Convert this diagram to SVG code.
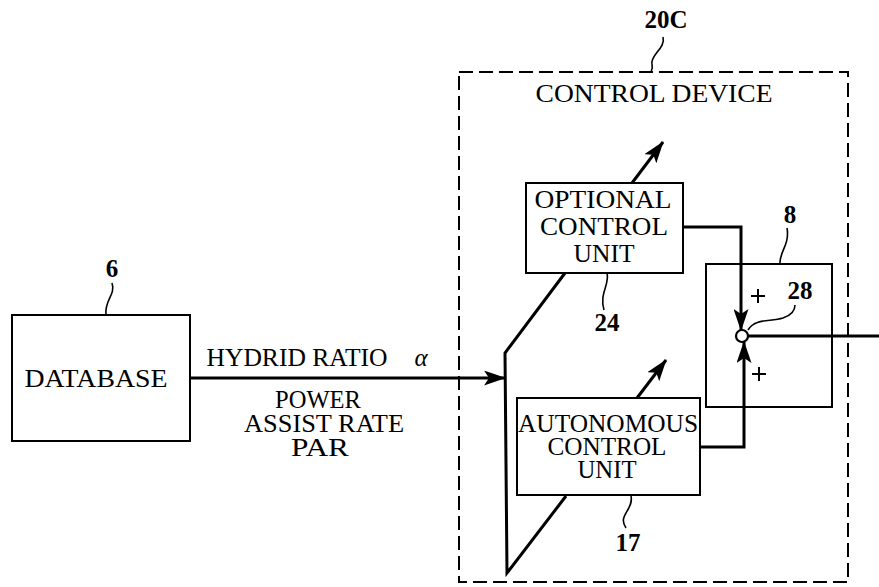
<svg xmlns="http://www.w3.org/2000/svg" width="879" height="587" viewBox="0 0 879 587">
<defs>
<style>
.box{fill:#fff;stroke:#000;stroke-width:2}
.ln{fill:none;stroke:#000;stroke-width:3}
.ld{fill:none;stroke:#000;stroke-width:1.6}
.t{font-family:"Liberation Serif","Times New Roman",serif;font-size:25px;fill:#000;text-anchor:middle}
.n{font-family:"Liberation Serif","Times New Roman",serif;font-size:25px;font-weight:bold;fill:#000;text-anchor:middle}
</style>
<marker id="ah" viewBox="0 0 22 15" refX="21" refY="7.5" markerWidth="22" markerHeight="15" markerUnits="userSpaceOnUse" orient="auto">
<path d="M0,0 L22,7.5 L0,15 L5,7.5 Z" fill="#000"/>
</marker>
</defs>
<rect width="879" height="587" fill="#fff"/>

<g id="control-device">
<rect x="459" y="72" width="389" height="510" fill="none" stroke="#000" stroke-width="2" stroke-dasharray="14,6"/>
<text class="t" x="654" y="102" font-size="26" textLength="237" lengthAdjust="spacingAndGlyphs">CONTROL DEVICE</text>
<text class="n" x="666" y="28">20C</text>
<path class="ld" d="M663,37 C666,48 650,55 652,64 C653,68 652,70 651,72"/>
</g>

<g id="database">
<rect class="box" x="12" y="315" width="178" height="126"/>
<text class="t" x="96" y="387" font-size="27" textLength="143" lengthAdjust="spacingAndGlyphs">DATABASE</text>
<text class="n" x="112" y="277">6</text>
<path class="ld" d="M112,283 C116,295 104,300 106,315"/>
</g>

<g id="optional-control-unit">
<rect class="box" x="526" y="183" width="157" height="90"/>
<text class="t" x="603" y="208" font-size="26" textLength="137" lengthAdjust="spacingAndGlyphs">OPTIONAL</text>
<text class="t" x="604" y="235" font-size="26" textLength="128" lengthAdjust="spacingAndGlyphs">CONTROL</text>
<text class="t" x="604" y="262" font-size="26" textLength="61" lengthAdjust="spacingAndGlyphs">UNIT</text>
<text class="n" x="607" y="331">24</text>
<path class="ld" d="M607,273 C610,285 599,293 604,310"/>
</g>

<g id="autonomous-control-unit">
<rect class="box" x="517" y="398" width="183" height="97"/>
<text class="t" x="608" y="432" font-size="26" textLength="180" lengthAdjust="spacingAndGlyphs">AUTONOMOUS</text>
<text class="t" x="607" y="455" font-size="26" textLength="119" lengthAdjust="spacingAndGlyphs">CONTROL</text>
<text class="t" x="607" y="478" font-size="26" textLength="59" lengthAdjust="spacingAndGlyphs">UNIT</text>
<text class="n" x="628" y="551">17</text>
<path class="ld" d="M631,496 C634,510 617,515 626,528"/>
</g>

<g id="adder-unit">
<rect class="box" x="706" y="264" width="126" height="143"/>
<text class="n" x="790" y="223">8</text>
<path class="ld" d="M787,228 C790,245 779,252 780,264"/>
<circle cx="742" cy="336" r="6" fill="#fff" stroke="#000" stroke-width="2.2"/>
<text class="n" x="800" y="299">28</text>
<path class="ld" d="M748,330 C755,318 770,322 783,318 C792,315 795,310 795,305"/>
<path d="M751,296 H765 M758,289 V303 M752,374 H766 M759,367 V381" fill="none" stroke="#000" stroke-width="2"/>
</g>

<g id="connectors">
<line class="ln" x1="190" y1="378" x2="505" y2="378" marker-end="url(#ah)"/>
<path class="ln" d="M565,273 L505,353 L507,573 L566,496"/>
<line class="ln" x1="632" y1="183" x2="663" y2="142" marker-end="url(#ah)"/>
<line class="ln" x1="637" y1="398" x2="666" y2="360" marker-end="url(#ah)"/>
<path class="ln" d="M683,227 L741,227 L741,330" marker-end="url(#ah)"/>
<path class="ln" d="M700,447 L744,447 L744,342" marker-end="url(#ah)"/>
<line class="ln" x1="748" y1="336" x2="879" y2="336" stroke-width="2"/>
</g>

<text class="t" x="297" y="366" font-size="23" textLength="181" lengthAdjust="spacingAndGlyphs">HYDRID RATIO</text>
<text class="t" x="421" y="366" font-size="25" font-style="italic">α</text>
<text class="t" x="318" y="408" font-size="26" textLength="86" lengthAdjust="spacingAndGlyphs">POWER</text>
<text class="t" x="324" y="432" font-size="26" textLength="160" lengthAdjust="spacingAndGlyphs">ASSIST RATE</text>
<text class="t" x="320" y="456" font-size="26" textLength="58" lengthAdjust="spacingAndGlyphs">PAR</text>
</svg>
